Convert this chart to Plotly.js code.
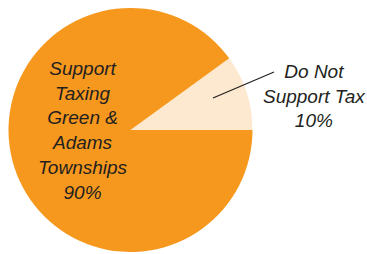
<!DOCTYPE html>
<html>
<head>
<meta charset="utf-8">
<script src="https://cdn.plot.ly/plotly-3.0.1.min.js"></script>
<style>html,body{margin:0;padding:0;background:#fff;}#chart{width:367px;height:254px;}</style>
</head>
<body>
<div id="chart"></div>
<script>
const labels = ["Do Not Support Tax", "Support Taxing Green & Adams Townships"];
const values = [10, 90];
const labelLines = [["Do Not", "Support Tax"], ["Support", "Taxing", "Green &", "Adams", "Townships"]];
const colors = ["#FDE9CF", "#F7981E"];

const W = 367, H = 254;
const cx = 130.5, cy = 130, r = 122;

const total = values.reduce((a, b) => a + b, 0);
const pct = values.map(v => Math.round(v / total * 100) + "%");

const trace = {
  type: "pie",
  labels: labels,
  values: values,
  sort: false,
  direction: "counterclockwise",
  rotation: 90 - 360 * values[0] / total,
  marker: { colors: colors, line: { width: 0 } },
  textinfo: "none",
  hoverinfo: "label+percent",
  showlegend: false,
  domain: {
    x: [(cx - r) / W, (cx + r) / W],
    y: [(H - cy - r) / H, (H - cy + r) / H]
  }
};

const font = { family: "Liberation Sans, Arial, sans-serif", size: 19, color: "#231F20" };
function ital(lines) { return lines.map(s => "<i>" + s.replace("&", "&amp;") + "</i>").join("<br>"); }

const layout = {
  width: W, height: H,
  margin: { l: 0, r: 0, t: 0, b: 0 },
  paper_bgcolor: "#ffffff",
  annotations: [
    {
      xref: "paper", yref: "paper",
      x: 83 / W, y: 1 - 130 / H,
      xanchor: "center", yanchor: "middle",
      text: ital(labelLines[1].concat([pct[1]])),
      showarrow: false, font: font, align: "center"
    },
    {
      xref: "paper", yref: "paper",
      x: 314 / W, y: 1 - 96 / H,
      xanchor: "center", yanchor: "middle",
      text: ital(labelLines[0].concat([pct[0]])),
      showarrow: false, font: font, align: "center"
    }
  ],
  shapes: [
    {
      type: "line", xref: "paper", yref: "paper",
      x0: 213 / W, y0: 1 - 98 / H, x1: 274 / W, y1: 1 - 72 / H,
      line: { color: "#231F20", width: 1.2 }
    }
  ]
};

Plotly.newPlot("chart", [trace], layout, { displayModeBar: false, staticPlot: true });
</script>
</body>
</html>
